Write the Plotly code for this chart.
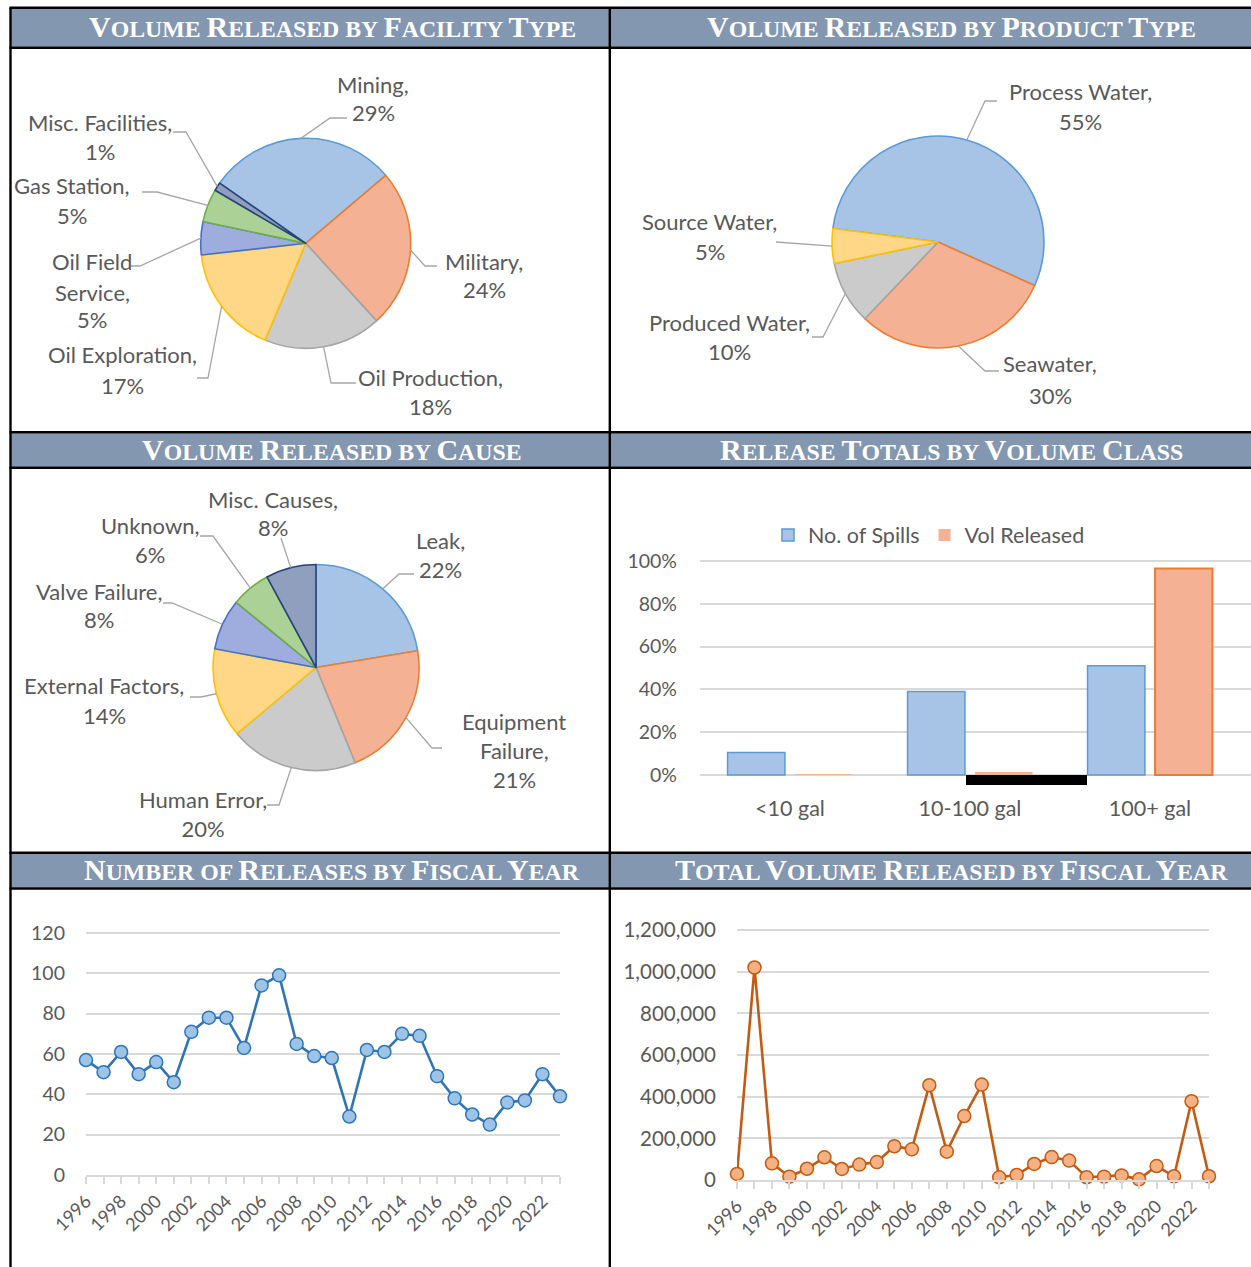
import math
import plotly.graph_objects as go

W, H = 1251, 1267


def px(x):
    return x / W


def py(y):
    return 1 - y / H


# ---------------- data ----------------
facility_types = ["Mining", "Military", "Oil Production", "Oil Exploration",
                  "Oil Field Service", "Gas Station", "Misc. Facilities"]
facility_share = [29.1, 24.4, 18.1, 16.9, 5.1, 5.1, 1.3]

product_types = ["Process Water", "Seawater", "Produced Water", "Source Water"]
product_share = [54.7, 30.4, 9.6, 5.3]

causes = ["Leak", "Equipment Failure", "Human Error", "External Factors",
          "Valve Failure", "Unknown", "Misc. Causes"]
cause_share = [22.4, 21.4, 20.1, 14.0, 8.0, 6.2, 7.9]

volume_classes = ["<10 gal", "10-100 gal", "100+ gal"]
spills_share = [0.105, 0.39, 0.51]
volume_share = [0.002, 0.014, 0.965]

years = list(range(1996, 2024))
releases = [57, 51, 61, 50, 56, 46, 71, 78, 78, 63, 94, 99, 65, 59, 58, 29,
            62, 61, 70, 69, 49, 38, 30, 25, 36, 37, 50, 39]
volumes = [29000, 1020000, 80000, 16000, 54000, 109000, 53000, 74000, 86000,
           162000, 147000, 455000, 136000, 307000, 458000, 13000, 24000, 77000,
           110000, 93000, 13000, 16000, 22000, 3000, 67000, 18000, 378000, 18000]

headers = ["Volume Released by Facility Type", "Volume Released by Product Type",
           "Volume Released by Cause", "Release Totals by Volume Class",
           "Number of Releases by Fiscal Year", "Total Volume Released by Fiscal Year"]

# ---------------- style ----------------
FILL = {"blue": "#A7C4E6", "orange": "#F4B193", "gray": "#CBCBCB", "yellow": "#FFD787",
        "blue2": "#9EADDD", "green": "#ACD197", "navy": "#909FBE"}
EDGE = {"blue": "#5B9BD5", "orange": "#ED7D31", "gray": "#A5A5A5", "yellow": "#FFC000",
        "blue2": "#4472C4", "green": "#70AD47", "navy": "#264478"}
SEQ7 = ["blue", "orange", "gray", "yellow", "blue2", "green", "navy"]
TXT = "#595959"
GRID = "#D9D9D9"
FONT = "Lato"
LEAD = "#A6A6A6"
HDR_FILL = "#8497B0"
LABEL_SIZE = 22

BREAKS = {"Oil Field Service": ["Oil Field", "Service,"],
          "Equipment Failure": ["Equipment", "Failure,"]}

fig = go.Figure()
annotations = []
shapes = []


def add_pie(labels, values, cx, cy, r, rot, label_pos, leaders):
    cols = SEQ7[:len(labels)]
    fig.add_trace(go.Pie(
        labels=labels, values=values, sort=False, direction="clockwise",
        rotation=rot, textinfo="none", hoverinfo="label+percent",
        showlegend=False,
        domain=dict(x=[px(cx - r), px(cx + r)], y=[py(cy + r), py(cy - r)]),
        marker=dict(colors=[FILL[c] for c in cols],
                    line=dict(color=[EDGE[c] for c in cols], width=1.6)),
    ))
    tot = sum(values)
    cum = 0
    lfont = dict(family=FONT, size=LABEL_SIZE, color=TXT)
    for lab, v in zip(labels, values):
        a = math.radians(rot + 360 * (cum + v / 2) / tot)
        cum += v
        ex, ey = cx + r * math.sin(a), cy - r * math.cos(a)
        lines = BREAKS.get(lab, [lab + ","]) + [f"{v:.0f}%"]
        lx, lys = label_pos[lab]
        gaps = [b - a_ for a_, b in zip(lys, lys[1:])]
        if min(gaps) < 27.5:
            annotations.append(dict(
                x=px(lx), y=py(sum(lys) / len(lys)), xref="paper", yref="paper",
                text="<br>".join(lines), showarrow=False, xanchor="center",
                yanchor="middle", align="center", font=lfont))
        else:
            for t, ly in zip(lines, lys):
                annotations.append(dict(
                    x=px(lx), y=py(ly), xref="paper", yref="paper", text=t,
                    showarrow=False, xanchor="center", yanchor="middle", font=lfont))
        pts = leaders[lab] + [(ex, ey)]
        path = "M " + " L ".join(f"{px(x):.5f},{py(y):.5f}" for x, y in pts)
        shapes.append(dict(type="path", path=path, xref="paper", yref="paper",
                           line=dict(color=LEAD, width=1.3), layer="above"))


# Pie 1: facility type
add_pie(facility_types, facility_share, 305.7, 243.3, 105, 305,
        {"Mining": (373, [84, 112]), "Military": (484, [261, 290]),
         "Oil Production": (430, [377, 406]), "Oil Exploration": (122, [354, 386]),
         "Oil Field Service": (92, [261, 292, 320]), "Gas Station": (72, [186, 216]),
         "Misc. Facilities": (100, [123, 152])},
        {"Mining": [(347, 118), (330, 118)], "Military": [(437, 266), (425, 266)],
         "Oil Production": [(356, 383), (331, 383)],
         "Oil Exploration": [(197, 378), (208, 378)],
         "Oil Field Service": [(131, 266), (140, 266)],
         "Gas Station": [(142, 192), (157, 192)],
         "Misc. Facilities": [(173, 132), (186, 132)]})

# Pie 2: product type
add_pie(product_types, product_share, 938, 242, 106, 277.3,
        {"Process Water": (1080, [91, 121]), "Seawater": (1050, [364, 395]),
         "Produced Water": (729, [323, 351]), "Source Water": (710, [222, 252])},
        {"Process Water": [(997, 101), (985, 101)], "Seawater": [(999, 371), (985, 371)],
         "Produced Water": [(812, 337), (823, 337)], "Source Water": [(776, 242)]})

# Pie 3: cause
add_pie(causes, cause_share, 316, 667.5, 103, 0,
        {"Leak": (440, [543, 566]), "Equipment Failure": (514, [721, 750, 779]),
         "Human Error": (203, [801, 827]), "External Factors": (104, [686, 716]),
         "Valve Failure": (99, [591, 619]), "Unknown": (150, [529, 551]),
         "Misc. Causes": (273, [500, 528])},
        {"Leak": [(414, 574), (399, 574)], "Equipment Failure": [(442, 748), (432, 748)],
         "Human Error": [(267, 805), (279, 805)], "External Factors": [(190, 697), (201, 697)],
         "Valve Failure": [(163, 603), (172, 603)], "Unknown": [(200, 536), (213, 536)],
         "Misc. Causes": [(281, 538)]})

# Bar chart: volume class
fig.add_trace(go.Bar(x=volume_classes, y=spills_share, name="No. of Spills",
                     marker=dict(color=FILL["blue"], line=dict(color=EDGE["blue"], width=1.5)),
                     xaxis="x3", yaxis="y3"))
fig.add_trace(go.Bar(x=volume_classes, y=volume_share, name="Vol Released",
                     marker=dict(color=FILL["orange"],
                                 line=dict(color=EDGE["orange"], width=[0, 0, 2])),
                     xaxis="x3", yaxis="y3"))

# Line charts
fig.add_trace(go.Scatter(x=years, y=releases, mode="lines+markers", showlegend=False,
                         line=dict(color="#2E75B6", width=2.6),
                         marker=dict(size=13, color="#9DC3E6", line=dict(color="#2E75B6", width=1.5)),
                         cliponaxis=False, xaxis="x", yaxis="y"))
fig.add_trace(go.Scatter(x=years, y=volumes, mode="lines+markers", showlegend=False,
                         line=dict(color="#C55A11", width=2.6),
                         marker=dict(size=13, color="#F4B183", line=dict(color="#C55A11", width=1.5)),
                         cliponaxis=False, xaxis="x2", yaxis="y2"))


def vaxis(p_lo, p_hi, v_lo, v_hi, pad_lo=0.0, pad_hi=2.0):
    """Map value v_lo to pixel row p_lo and v_hi to p_hi; pad the range a little
    so that the end grid lines stay visible."""
    k = (v_hi - v_lo) / (p_lo - p_hi)
    rng = [v_lo - pad_lo * k, v_hi + pad_hi * k]
    dom = [py(p_lo + pad_lo), py(p_hi - pad_hi)]
    return dom, rng


tickfont = dict(family=FONT, size=19.5, color=TXT)
year_axis = dict(range=[years[0], years[-1]], tick0=years[0], dtick=2, tickangle=-45,
                 ticks="outside", ticklen=7, tickcolor=GRID, tickwidth=1.5,
                 minor=dict(dtick=1, tick0=years[0], ticks="outside", ticklen=7,
                            tickcolor=GRID, tickwidth=1.5, showgrid=False),
                 showline=True, linecolor=GRID, linewidth=1.5, showgrid=False,
                 zeroline=False, automargin=False,
                 tickfont=dict(family=FONT, size=18, color=TXT))

y1_dom, y1_rng = vaxis(1175, 933, 0, 120)
y2_dom, y2_rng = vaxis(1180, 930, 0, 1200000)
y3_dom, y3_rng = vaxis(775, 561, 0, 1, pad_lo=2, pad_hi=2)


# ---------------- headers & frame ----------------
def small_caps(text, big=30, small=23.8):
    out = []
    for w in text.split(" "):
        if w[0].isupper():
            out.append(f"<span style='font-size:{big}px'>{w[0]}</span>{w[1:].upper()}")
        else:
            out.append(w.upper())
    return " ".join(out)


header_bands = [(8.7, 46.7), (433.3, 466.7), (853.7, 887.5)]
header_centers = [332, 951]
for i, (y0, y1) in enumerate(header_bands):
    shapes.append(dict(type="rect", xref="paper", yref="paper", x0=px(11), x1=1,
                       y0=py(y1), y1=py(y0), fillcolor=HDR_FILL, line=dict(width=0),
                       layer="below"))
    for yy in (y0 - 1, y1 + 1):
        shapes.append(dict(type="line", xref="paper", yref="paper", x0=px(9.5), x1=1,
                           y0=py(yy), y1=py(yy), line=dict(color="black", width=2.4)))
    for j in range(2):
        annotations.append(dict(
            x=px(header_centers[j]), y=py((y0 + y1) / 2 - 1), xref="paper", yref="paper",
            text=small_caps(headers[2 * i + j]), showarrow=False,
            xanchor="center", yanchor="middle",
            font=dict(family="Liberation Serif", size=23.8, color="white", weight="bold")))

for xx in (10.5, 609.8):
    shapes.append(dict(type="line", xref="paper", yref="paper", x0=px(xx), x1=px(xx),
                       y0=0, y1=py(7.5), line=dict(color="black", width=2.4)))

# black block visible under the bar chart in the source picture
shapes.append(dict(type="rect", xref="paper", yref="paper", x0=px(966), x1=px(1087),
                   y0=py(785), y1=py(775), fillcolor="black", line=dict(width=0),
                   layer="above"))

fig.update_layout(
    width=W, height=H, margin=dict(l=0, r=0, t=0, b=0, pad=0, autoexpand=False),
    paper_bgcolor="white", plot_bgcolor="rgba(0,0,0,0)",
    font=dict(family=FONT, color=TXT),
    annotations=annotations, shapes=shapes,
    barmode="group", bargap=0.25, bargroupgap=0.15,
    legend=dict(orientation="h", x=px(929), xanchor="center", y=py(535), yanchor="middle",
                font=dict(family=FONT, size=21.5, color=TXT), bgcolor="rgba(0,0,0,0)"),
    xaxis=dict(domain=[px(86), px(560)], anchor="y", **year_axis),
    yaxis=dict(domain=y1_dom, anchor="x", range=y1_rng, tick0=0, dtick=20,
               gridcolor=GRID, gridwidth=1.6, zeroline=False, showline=False,
               automargin=False, tickfont=tickfont, ticklabelstandoff=20),
    xaxis2=dict(domain=[px(737), px(1209)], anchor="y2", **year_axis),
    yaxis2=dict(domain=y2_dom, anchor="x2", range=y2_rng, tick0=0, dtick=200000,
                tickformat=",d", gridcolor=GRID, gridwidth=1.6, zeroline=False,
                showline=False, automargin=False,
                tickfont=dict(family=FONT, size=20.5, color=TXT), ticklabelstandoff=20),
    xaxis3=dict(domain=[px(700), 1], anchor="y3", type="category",
                range=[-0.5, 2.5 + 11 / 180], tickvals=volume_classes,
                ticktext=[c.replace("<", "&lt;") for c in volume_classes],
                showgrid=False, showline=False, zeroline=False, ticks="",
                automargin=False, tickfont=dict(family=FONT, size=21.5, color=TXT),
                ticklabelstandoff=16),
    yaxis3=dict(domain=y3_dom, anchor="x3", range=y3_rng, tick0=0, dtick=0.2,
                tickformat=".0%", gridcolor=GRID, gridwidth=1.8, zeroline=False,
                showline=False, automargin=False, tickfont=tickfont, ticklabelstandoff=22),
)

# the page body's default 8px margin would shift the figure; remove it
fig.write_html("out.html", config={"displayModeBar": False},
               post_script="document.body.style.margin='0px';")
